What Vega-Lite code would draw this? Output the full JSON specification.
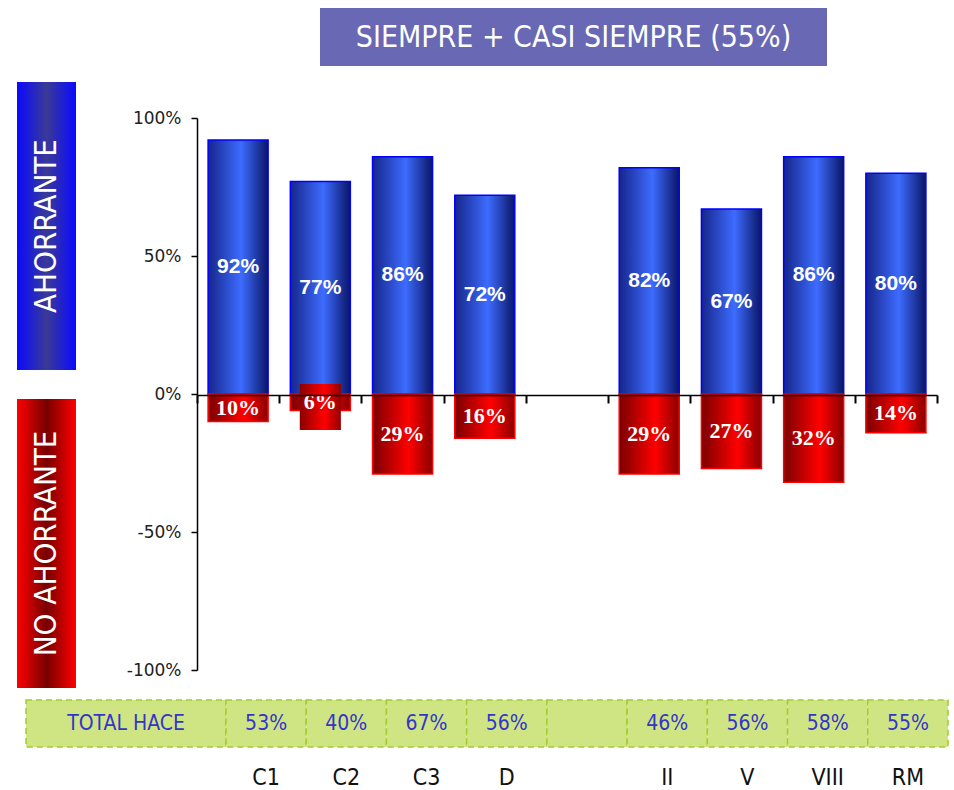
{
  "$schema": "https://vega.github.io/schema/vega-lite/v6.json",
  "width": 954,
  "height": 790,
  "autosize": {"type": "none"},
  "padding": 0,
  "background": "white",
  "config": {"view": {"stroke": null}},
  "datasets": {
    "zonas": [
      {"cat": "C1", "ahorrante": 0.92, "no": 0.10, "total": 0.53},
      {"cat": "C2", "ahorrante": 0.77, "no": 0.06, "total": 0.40},
      {"cat": "C3", "ahorrante": 0.86, "no": 0.29, "total": 0.67},
      {"cat": "D", "ahorrante": 0.72, "no": 0.16, "total": 0.56},
      {"cat": " ", "ahorrante": null, "no": null, "total": null},
      {"cat": "II", "ahorrante": 0.82, "no": 0.29, "total": 0.46},
      {"cat": "V", "ahorrante": 0.67, "no": 0.27, "total": 0.56},
      {"cat": "VIII", "ahorrante": 0.86, "no": 0.32, "total": 0.58},
      {"cat": "RM", "ahorrante": 0.80, "no": 0.14, "total": 0.55}
    ],
    "one": [{"k": 1}]
  },
  "resolve": {"scale": {"x": "independent", "y": "independent"}, "axis": {"x": "independent", "y": "independent"}},
  "layer": [
    {
      "data": {"name": "zonas"},
      "mark": {"type": "bar", "width": {"band": 0.73}, "stroke": "#0000ff", "strokeWidth": 1.5,
        "fill": {"gradient": "linear", "x1": 0, "y1": 0, "x2": 1, "y2": 0,
          "stops": [{"offset": 0, "color": "#16258a"}, {"offset": 0.55, "color": "#3d6cff"}, {"offset": 1, "color": "#0a1566"}]}},
      "encoding": {
        "x": {"field": "cat", "type": "nominal", "sort": null,
          "scale": {"type": "band", "domain": ["C1", "C2", "C3", "D", " ", "II", "V", "VIII", "RM"], "range": [197, 937], "paddingInner": 0, "paddingOuter": 0},
          "axis": {"orient": "bottom", "offset": -395, "labels": false, "title": null, "tickBand": "extent", "tickSize": 8, "tickWidth": 2, "tickColor": "#000", "domainColor": "#000", "domainWidth": 1.5, "zindex": 1}},
        "y": {"field": "ahorrante", "type": "quantitative",
          "scale": {"domain": [-1, 1], "range": [670, 118], "nice": false},
          "axis": {"orient": "left", "offset": -197, "values": [-1, -0.5, 0, 0.5, 1], "format": ".0%", "labelExpr": "replace(datum.label, '\u2212', '-')", "title": null, "grid": false,
            "tickSize": 6, "tickWidth": 1.5, "tickColor": "#000", "domainColor": "#000", "domainWidth": 1.5,
            "labelFont": "DejaVu Sans", "labelFontSize": 17, "labelColor": "#222", "labelPadding": 10, "zindex": 1}}
      }
    },
    {
      "data": {"name": "zonas"},
      "mark": {"type": "bar", "width": {"band": 0.73}, "stroke": "#ff0000", "strokeWidth": 1.5,
        "fill": {"gradient": "linear", "x1": 0, "y1": 0, "x2": 1, "y2": 0,
          "stops": [{"offset": 0, "color": "#7a0000"}, {"offset": 0.6, "color": "#ff0000"}, {"offset": 1, "color": "#8a0000"}]}},
      "encoding": {
        "x": {"field": "cat", "type": "nominal", "sort": null,
          "scale": {"type": "band", "domain": ["C1", "C2", "C3", "D", " ", "II", "V", "VIII", "RM"], "range": [197, 937], "paddingInner": 0, "paddingOuter": 0}, "axis": null},
        "y": {"field": "no", "type": "quantitative",
          "scale": {"domain": [-1, 1], "range": [118, 670], "nice": false}, "axis": null}
      }
    },
    {
      "data": {"name": "one"},
      "mark": {"type": "bar", "width": {"band": 0.5},
        "fill": {"gradient": "linear", "x1": 0, "y1": 0, "x2": 1, "y2": 0,
          "stops": [{"offset": 0, "color": "#8a0000"}, {"offset": 0.6, "color": "#ff0000"}, {"offset": 1, "color": "#900000"}]}},
      "encoding": {
        "x": {"datum": "C2", "type": "nominal",
          "scale": {"type": "band", "domain": ["C1", "C2", "C3", "D", " ", "II", "V", "VIII", "RM"], "range": [197, 937], "paddingInner": 0, "paddingOuter": 0}, "axis": null},
        "y": {"datum": 0.036, "type": "quantitative", "scale": {"domain": [-1, 1], "range": [670, 118], "nice": false}, "axis": null},
        "y2": {"datum": -0.13}
      }
    },
    {
      "data": {"name": "zonas"},
      "mark": {"type": "text", "color": "white", "font": "Liberation Sans", "fontWeight": "bold", "fontSize": 21, "baseline": "middle"},
      "encoding": {
        "x": {"field": "cat", "type": "nominal", "sort": null,
          "scale": {"type": "band", "domain": ["C1", "C2", "C3", "D", " ", "II", "V", "VIII", "RM"], "range": [197, 937], "paddingInner": 0, "paddingOuter": 0}, "axis": null},
        "y": {"field": "ahorrante", "type": "quantitative", "scale": {"domain": [-2, 2], "range": [670, 118], "nice": false}, "axis": null},
        "text": {"field": "ahorrante", "type": "quantitative", "format": ".0%"}
      }
    },
    {
      "data": {"name": "zonas"},
      "mark": {"type": "text", "color": "white", "font": "Liberation Serif", "fontWeight": "bold", "fontSize": 22, "baseline": "middle"},
      "encoding": {
        "x": {"field": "cat", "type": "nominal", "sort": null,
          "scale": {"type": "band", "domain": ["C1", "C2", "C3", "D", " ", "II", "V", "VIII", "RM"], "range": [197, 937], "paddingInner": 0, "paddingOuter": 0}, "axis": null},
        "y": {"field": "no", "type": "quantitative", "scale": {"domain": [-2, 2], "range": [118, 670], "nice": false}, "axis": null},
        "text": {"field": "no", "type": "quantitative", "format": ".0%"}
      }
    },
    {
      "data": {"name": "one"},
      "encoding": {
        "x": {"datum": "title", "type": "nominal", "scale": {"type": "band", "domain": ["title"], "range": [320, 827], "paddingInner": 0, "paddingOuter": 0}, "axis": null}
      },
      "layer": [
        {
          "mark": {"type": "bar", "width": {"band": 1}, "fill": "#6868b4"},
          "encoding": {
            "y": {"datum": 1.399, "type": "quantitative", "scale": {"domain": [-1, 1], "range": [670, 118], "nice": false}, "axis": null},
            "y2": {"datum": 1.188}
          }
        },
        {
          "mark": {"type": "text", "color": "white", "font": "Liberation Sans Narrow, DejaVu Sans Condensed, sans-serif", "fontSize": 30, "baseline": "middle", "text": "SIEMPRE + CASI SIEMPRE (55%)"},
          "encoding": {
            "y": {"datum": 1.29, "type": "quantitative", "scale": {"domain": [-1, 1], "range": [670, 118], "nice": false}, "axis": null}
          }
        }
      ]
    },
    {
      "data": {"name": "one"},
      "encoding": {
        "x": {"datum": "lado", "type": "nominal", "scale": {"type": "band", "domain": ["lado"], "range": [17, 76], "paddingInner": 0, "paddingOuter": 0}, "axis": null}
      },
      "layer": [
        {
          "mark": {"type": "bar", "width": {"band": 1},
            "fill": {"gradient": "linear", "x1": 0, "y1": 0, "x2": 1, "y2": 0,
              "stops": [{"offset": 0, "color": "#0a0aff"}, {"offset": 0.5, "color": "#3a3a96"}, {"offset": 1, "color": "#0a0aff"}]}},
          "encoding": {
            "y": {"datum": 1.13, "type": "quantitative", "scale": {"domain": [-1, 1], "range": [670, 118], "nice": false}, "axis": null},
            "y2": {"datum": 0.087}
          }
        },
        {
          "mark": {"type": "bar", "width": {"band": 1},
            "fill": {"gradient": "linear", "x1": 0, "y1": 0, "x2": 1, "y2": 0,
              "stops": [{"offset": 0, "color": "#ff0000"}, {"offset": 0.5, "color": "#780000"}, {"offset": 1, "color": "#ff0000"}]}},
          "encoding": {
            "y": {"datum": -0.018, "type": "quantitative", "scale": {"domain": [-1, 1], "range": [670, 118], "nice": false}, "axis": null},
            "y2": {"datum": -1.065}
          }
        },
        {
          "mark": {"type": "text", "color": "white", "angle": 270, "font": "Liberation Sans Narrow, DejaVu Sans Condensed, sans-serif", "fontSize": 31, "baseline": "middle", "align": "center", "text": "AHORRANTE"},
          "encoding": {
            "y": {"datum": 0.6085, "type": "quantitative", "scale": {"domain": [-1, 1], "range": [670, 118], "nice": false}, "axis": null}
          }
        },
        {
          "mark": {"type": "text", "color": "white", "angle": 270, "font": "Liberation Sans Narrow, DejaVu Sans Condensed, sans-serif", "fontSize": 31, "baseline": "middle", "align": "center", "text": "NO AHORRANTE"},
          "encoding": {
            "y": {"datum": -0.5415, "type": "quantitative", "scale": {"domain": [-1, 1], "range": [670, 118], "nice": false}, "axis": null}
          }
        }
      ]
    },
    {
      "data": {"name": "one"},
      "encoding": {
        "x": {"datum": "TOTAL HACE", "type": "nominal", "scale": {"type": "band", "domain": ["TOTAL HACE"], "range": [26, 226], "paddingInner": 0, "paddingOuter": 0}, "axis": null}
      },
      "layer": [
        {
          "mark": {"type": "bar", "width": {"band": 1}, "fill": "#cfe584", "stroke": "#a4cc2e", "strokeWidth": 1.5, "strokeDash": [6, 4]},
          "encoding": {
            "y": {"datum": -1.109, "type": "quantitative", "scale": {"domain": [-1, 1], "range": [670, 118], "nice": false}, "axis": null},
            "y2": {"datum": -1.279}
          }
        },
        {
          "mark": {"type": "text", "color": "#3535c8", "font": "Liberation Sans Narrow, DejaVu Sans Condensed, sans-serif", "fontSize": 21, "baseline": "middle", "text": "TOTAL HACE"},
          "encoding": {
            "y": {"datum": -1.194, "type": "quantitative", "scale": {"domain": [-1, 1], "range": [670, 118], "nice": false}, "axis": null}
          }
        }
      ]
    },
    {
      "data": {"name": "zonas"},
      "encoding": {
        "x": {"field": "cat", "type": "nominal", "sort": null,
          "scale": {"type": "band", "domain": ["C1", "C2", "C3", "D", " ", "II", "V", "VIII", "RM"], "range": [226, 948], "paddingInner": 0, "paddingOuter": 0}, "axis": null}
      },
      "layer": [
        {
          "mark": {"type": "bar", "width": {"band": 1}, "fill": "#cfe584", "stroke": "#a4cc2e", "strokeWidth": 1.5, "strokeDash": [6, 4]},
          "encoding": {
            "y": {"datum": -1.109, "type": "quantitative", "scale": {"domain": [-1, 1], "range": [670, 118], "nice": false}, "axis": null},
            "y2": {"datum": -1.279}
          }
        },
        {
          "transform": [{"filter": {"field": "total", "valid": true}}],
          "mark": {"type": "text", "color": "#3535c8", "font": "Liberation Sans Narrow, DejaVu Sans Condensed, sans-serif", "fontSize": 21, "baseline": "middle"},
          "encoding": {
            "y": {"datum": -1.194, "type": "quantitative", "scale": {"domain": [-1, 1], "range": [670, 118], "nice": false}, "axis": null},
            "text": {"field": "total", "type": "quantitative", "format": ".0%"}
          }
        },
        {
          "mark": {"type": "text", "color": "#111", "font": "Liberation Sans Narrow, DejaVu Sans Condensed, sans-serif", "fontSize": 23, "baseline": "middle"},
          "encoding": {
            "y": {"datum": -1.391, "type": "quantitative", "scale": {"domain": [-1, 1], "range": [670, 118], "nice": false}, "axis": null},
            "text": {"field": "cat", "type": "nominal"}
          }
        }
      ]
    }
  ]
}
